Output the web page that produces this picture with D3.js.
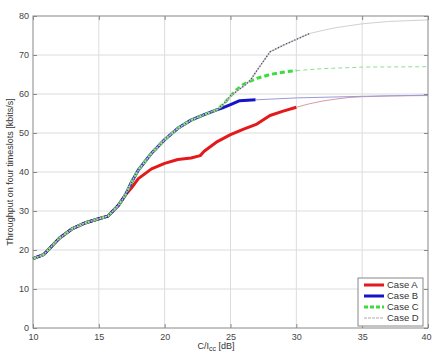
<!doctype html>
<html>
<body>
<style type="text/css">
    html,body{
        margin: 0;
        overflow: hidden;
        background: #fff;
    }
    text {
        font-family: Arial, "Liberation Sans", sans-serif;
        fill: #333;
    }
</style>
<script src="https://cdn.jsdelivr.net/npm/d3@7/dist/d3.min.js"></script>
<script type="text/javascript">
// shared part of all four curves
var commonX = [10, 10.8, 12, 13, 14, 15, 15.7, 16.5, 17];
var commonY = [17.8, 18.8, 23, 25.5, 27, 28, 28.7, 31.5, 34];

// B, C and D share this stretch
var sharedX = [17.5, 18, 19, 20, 21, 22, 23, 24];
var sharedY = [37.5, 40.5, 44.8, 48.3, 51.2, 53.3, 54.7, 56];

var aX = [17.5, 18, 19, 20, 21, 22, 22.7, 23, 24, 25, 26, 27, 28, 29, 30];
var aY = [36, 38.3, 40.8, 42.2, 43.2, 43.6, 44.2, 45.3, 47.8, 49.6, 51, 52.3, 54.5, 55.6, 56.6];
var aThinX = [30, 31, 32, 33, 34, 35, 37, 40];
var aThinY = [56.6, 57.5, 58.2, 58.7, 59.1, 59.3, 59.5, 59.6];

var bX = [24.3, 25, 25.7, 26.9];
var bY = [56.3, 57.3, 58.3, 58.5];
var bThinX = [26.9, 30, 35, 40];
var bThinY = [58.5, 59, 59.4, 59.7];

var cX = [24.5, 25, 25.5, 26, 27, 28, 29, 30];
var cY = [57.5, 59.5, 61.2, 62.5, 64, 65, 65.6, 66];
var cThinX = [30, 32, 35, 40];
var cThinY = [66, 66.5, 66.9, 67];

var dX = [24.5, 25, 25.5, 26, 26.5, 27, 28, 29, 30, 31];
var dY = [57.5, 59.5, 60.8, 62, 63.5, 66, 70.8, 72.5, 74, 75.5];
var dThinX = [31, 32, 33, 35, 37, 40];
var dThinY = [75.5, 76.3, 77, 78, 78.6, 79];

var xTicks = [10, 15, 20, 25, 30, 35, 40];
var yTicks = [0, 10, 20, 30, 40, 50, 60, 70, 80];
var legendNames = ["Case A", "Case B", "Case C", "Case D"];

(function(){
    var w = 432, h = 351,
        m = {left: 33, right: 4, top: 16, bottom: 23};

    var svg = d3.select("body").append("svg")
        .attr("width", w)
        .attr("height", h);

    var x = d3.scaleLinear().domain([10, 40]).range([m.left, w - m.right]);
    var y = d3.scaleLinear().domain([0, 80]).range([h - m.bottom, m.top]);

    function pts(xs, ys){ return xs.map(function(v, i){ return [v, ys[i]]; }); }
    function withBase(xs, ys){ return pts(commonX, commonY).concat(pts(xs, ys)); }
    function withShared(xs, ys){ return withBase(sharedX, sharedY).concat(pts(xs, ys)); }

    // grid
    svg.append("g").selectAll("line").data(xTicks.slice(1, -1)).enter().append("line")
        .attr("x1", function(d){return x(d)}).attr("x2", function(d){return x(d)})
        .attr("y1", y(0)).attr("y2", y(80))
        .attr("stroke", "#dcdcdc").attr("stroke-width", 1);
    svg.append("g").selectAll("line").data(yTicks.slice(1, -1)).enter().append("line")
        .attr("y1", function(d){return y(d)}).attr("y2", function(d){return y(d)})
        .attr("x1", x(10)).attr("x2", x(40))
        .attr("stroke", "#dcdcdc").attr("stroke-width", 1);

    var line = d3.line()
        .x(function(d){return x(d[0])})
        .y(function(d){return y(d[1])});

    function draw(data, color, width, dash){
        svg.append("path")
            .datum(data)
            .attr("d", line)
            .attr("fill", "none")
            .attr("stroke", color)
            .attr("stroke-width", width)
            .attr("stroke-linejoin", "round")
            .attr("stroke-dasharray", dash || null);
    }

    // thin continuations
    draw(pts(aThinX, aThinY), "#d79aa6", 1);
    draw(pts(bThinX, bThinY), "#9a9ad6", 1);
    draw(pts(cThinX, cThinY), "#8fe08f", 1, "4,3");
    draw(pts(dThinX, dThinY), "#d0d0d0", 1);

    // thick parts
    draw(withBase(aX, aY), "#e3191c", 3);
    draw(withShared(bX, bY), "#1414c8", 3);
    draw(withShared(cX, cY), "#3cdc3c", 3, "5,3");
    draw(withShared(dX, dY), "#c8c8c8", 1.5);
    draw(withShared(dX, dY), "#404060", 1.3, "1,2");

    // axes box with inside ticks
    svg.append("rect")
        .attr("x", x(10)).attr("y", y(80))
        .attr("width", x(40) - x(10)).attr("height", y(0) - y(80))
        .attr("fill", "none").attr("stroke", "#888").attr("stroke-width", 1);

    var xAxis = d3.axisBottom(x).tickValues(xTicks).tickSize(-4).tickPadding(7);
    var gx = svg.append("g").attr("transform", "translate(0," + y(0) + ")").call(xAxis);
    var yAxis = d3.axisLeft(y).tickValues(yTicks).tickSize(-4).tickPadding(4);
    var gy = svg.append("g").attr("transform", "translate(" + x(10) + ",0)").call(yAxis);
    svg.append("g").attr("transform", "translate(" + x(40) + ",0)")
        .call(d3.axisRight(y).tickValues(yTicks).tickSize(-4).tickFormat(""));
    svg.append("g").attr("transform", "translate(0," + y(80) + ")")
        .call(d3.axisTop(x).tickValues(xTicks).tickSize(-4).tickFormat(""));

    svg.selectAll(".domain").remove();
    svg.selectAll(".tick line").attr("stroke", "#888");
    svg.selectAll(".tick text").style("font-size", "9px").style("fill", "#444")
        .style("font-family", "Arial, 'Liberation Sans', sans-serif");
    gx.selectAll(".tick text").attr("dy", "0.5em")
        .attr("dx", function(d){ return d === 40 ? -2 : 0; });
    gy.selectAll(".tick text").attr("dy", "0.32em");

    // axis labels
    var xl = svg.append("text")
        .attr("x", 216).attr("y", 349)
        .attr("text-anchor", "middle")
        .style("font-size", "9px");
    xl.append("tspan").text("C/I");
    xl.append("tspan").attr("dy", 2).style("font-size", "7px").text("cc");
    xl.append("tspan").attr("dy", -2).text(" [dB]");

    svg.append("text")
        .attr("transform", "translate(13," + ((y(0) + y(80)) / 2) + ") rotate(-90)")
        .attr("text-anchor", "middle")
        .style("font-size", "9px")
        .text("Throughput on four timeslots [kbits/s]");

    // legend
    var lg = svg.append("g").attr("transform", "translate(358,278)");
    lg.append("rect").attr("width", 65).attr("height", 48)
        .attr("fill", "#fff").attr("stroke", "#888");
    var styles = [
        {c: "#e3191c", w: 3, d: null},
        {c: "#1414c8", w: 3, d: null},
        {c: "#3cdc3c", w: 3, d: "4,2"},
        {c: "#c8c8c8", w: 1.5, d: "3,1"}
    ];
    legendNames.forEach(function(n, i){
        var yy = 7 + i * 11;
        lg.append("line").attr("x1", 6).attr("x2", 26).attr("y1", yy).attr("y2", yy)
            .attr("stroke", styles[i].c).attr("stroke-width", styles[i].w)
            .attr("stroke-dasharray", styles[i].d);
        lg.append("text").attr("x", 29).attr("y", yy).attr("dy", "0.35em")
            .style("font-size", "9.5px").text(n);
    });
})();
</script>
</body>
</html>
